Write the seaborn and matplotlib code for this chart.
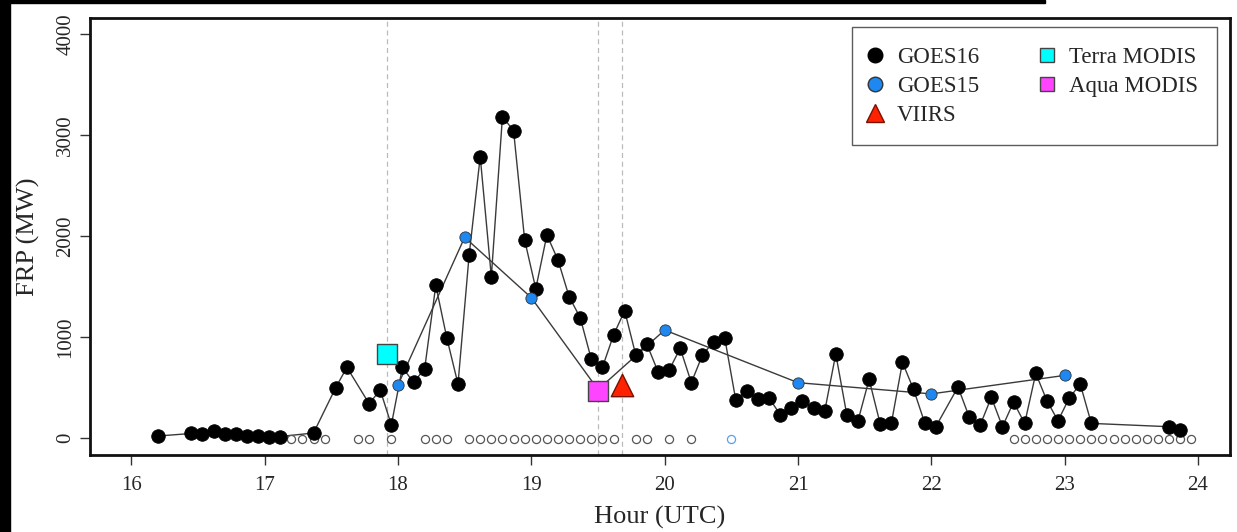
"""
FRP time series from GOES16 / GOES15 with polar orbiter overpasses
"""
import seaborn as sns
import matplotlib.pyplot as plt
import matplotlib.patches as mpatches
from matplotlib.lines import Line2D
import pandas as pd

# GOES16 observations (UTC HH:MM, FRP in MW)
goes16_time = ["16:12", "16:27", "16:32", "16:37", "16:42", "16:47", "16:52", "16:57", "17:02", "17:07",
               "17:22", "17:32", "17:37", "17:47", "17:52", "17:57", "18:02", "18:07", "18:12", "18:17",
               "18:22", "18:27", "18:32", "18:37", "18:42", "18:47", "18:52", "18:57", "19:02", "19:07",
               "19:12", "19:17", "19:22", "19:27", "19:32", "19:37", "19:42", "19:47", "19:52", "19:57",
               "20:02", "20:07", "20:12", "20:17", "20:22", "20:27", "20:32", "20:37", "20:42", "20:47",
               "20:52", "20:57", "21:02", "21:07", "21:12", "21:17", "21:22", "21:27", "21:32", "21:37",
               "21:42", "21:47", "21:52", "21:57", "22:02", "22:12", "22:17", "22:22", "22:27", "22:32",
               "22:37", "22:42", "22:47", "22:52", "22:57", "23:02", "23:07", "23:12", "23:47", "23:52"]
goes16_frp = [20, 45, 35, 72, 35, 35, 25, 25, 15, 15,
              50, 500, 700, 340, 475, 130, 700, 550, 686, 1512,
              987, 535, 1809, 2785, 1597, 3181, 3043, 1960, 1478, 2010,
              1762, 1399, 1191, 779, 700, 1020, 1260, 822, 928, 657,
              673, 888, 548, 822, 953, 993, 376, 468, 386, 396,
              231, 297, 363, 297, 264, 832, 225, 171, 581, 139,
              145, 749, 482, 152, 112, 505, 211, 129, 403, 112,
              356, 145, 640, 370, 171, 393, 535, 145, 112, 79]

# GOES15 observations
goes15_time = ["18:00", "18:30", "19:00", "19:30", "20:00", "21:00", "22:00", "23:00"]
goes15_frp = [525, 1987, 1389, 480, 1069, 548, 437, 620]

# scans with no fire detection (open circles)
goes16_none = ["17:07", "17:12", "17:17", "17:22", "17:27", "17:42", "17:47", "17:57",
               "18:12", "18:17", "18:22", "18:32", "18:37", "18:42", "18:47", "18:52", "18:57",
               "19:02", "19:07", "19:12", "19:17", "19:22", "19:27", "19:32", "19:37",
               "19:47", "19:52", "20:02", "20:12",
               "22:37", "22:42", "22:47", "22:52", "22:57", "23:02", "23:07", "23:12", "23:17",
               "23:22", "23:27", "23:32", "23:37", "23:42", "23:47", "23:52", "23:57"]
goes15_none = ["20:30"]

# polar orbiters
terra_time, terra_frp = ["17:55"], [830]
aqua_time, aqua_frp = ["19:30"], [468]
viirs_time, viirs_frp = ["19:41"], [525]


def hours(times):
    t = pd.to_datetime(pd.Series(times), format="%H:%M")
    return (t.dt.hour + t.dt.minute / 60).values


sns.set_style("ticks")
plt.rcParams["font.family"] = ["Liberation Serif", "DejaVu Serif"]

fig = plt.figure(figsize=(12.37, 5.32), dpi=100)
ax = fig.add_axes([90 / 1237, 1 - 455 / 532, 1140 / 1237, 437 / 532])

# overpass lines
for t in terra_time + aqua_time + viirs_time:
    ax.axvline(hours([t])[0], color="#bbbbbb", ls=(0, (4, 3)), lw=0.9, zorder=0)

line_kw = dict(color="#3a3a3a", lw=1.0, sort=False, estimator=None, legend=False)
sns.lineplot(x=hours(goes16_time), y=goes16_frp, ax=ax, zorder=2, **line_kw)
sns.lineplot(x=hours(goes15_time), y=goes15_frp, ax=ax, zorder=2, **line_kw)

sns.scatterplot(x=hours(goes16_none), y=[-5] * len(goes16_none), ax=ax, s=34,
                facecolor="white", edgecolor="#555555", linewidth=0.9, zorder=3)
sns.scatterplot(x=hours(goes15_none), y=[-5] * len(goes15_none), ax=ax, s=34,
                facecolor="white", edgecolor="#5aa0f0", linewidth=0.9, zorder=3)

sns.scatterplot(x=hours(goes16_time), y=goes16_frp, ax=ax, s=95, color="black",
                edgecolor="black", linewidth=0.6, zorder=4)
sns.scatterplot(x=hours(goes15_time), y=goes15_frp, ax=ax, s=66, color="#1e88f0",
                edgecolor="#333333", linewidth=0.6, zorder=5)

sns.scatterplot(x=hours(terra_time), y=terra_frp, ax=ax, s=220, marker="s", color="#00ffff",
                edgecolor="#444444", linewidth=1.0, zorder=6)
sns.scatterplot(x=hours(aqua_time), y=aqua_frp, ax=ax, s=220, marker="s", color="#ff44ff",
                edgecolor="#444444", linewidth=1.0, zorder=6)
sns.scatterplot(x=hours(viirs_time), y=viirs_frp, ax=ax, s=260, marker="^", color="#ff2200",
                edgecolor="#7a1000", linewidth=1.0, zorder=6)

ax.set_xlim(15.69, 24.24)
ax.set_ylim(-168, 4158)
ax.set_xticks(range(16, 25))
ax.set_yticks(range(0, 4001, 1000))
ax.tick_params(axis="both", direction="out", length=7, width=1, labelsize=15, color="#333333")
ax.tick_params(axis="x", pad=8)
for lab in ax.get_yticklabels():
    lab.set_rotation(90)
    lab.set_va("center")
for sp in ax.spines.values():
    sp.set_linewidth(2)
    sp.set_color("#111111")

ax.set_xlabel("Hour (UTC)", fontsize=19, labelpad=8)
ax.set_ylabel("FRP (MW)", fontsize=19, labelpad=12)

handles = [
    Line2D([], [], ls="", marker="o", ms=10.5, mfc="black", mec="black", label="GOES16"),
    Line2D([], [], ls="", marker="o", ms=10.5, mfc="#1e88f0", mec="#333333", label="GOES15"),
    Line2D([], [], ls="", marker="^", ms=12.5, mfc="#ff2200", mec="#7a1000", label="VIIRS"),
    Line2D([], [], ls="", marker="s", ms=10, mfc="#00ffff", mec="#444444", label="Terra MODIS"),
    Line2D([], [], ls="", marker="s", ms=10, mfc="#ff44ff", mec="#444444", label="Aqua MODIS"),
]
leg = ax.legend(handles=handles, ncol=2, loc="upper right", bbox_to_anchor=(0.9886, 0.979),
                borderaxespad=0, fontsize=16.5, frameon=True, fancybox=False, edgecolor="#333333",
                borderpad=0.85, handlelength=0.3, handletextpad=0.8, columnspacing=2.8,
                labelspacing=0.35)
leg.get_frame().set_linewidth(1.0)

# dark screenshot edges
fig.patches.append(mpatches.Rectangle((0, 0), 10 / 1237, 1, transform=fig.transFigure,
                                      color="black", zorder=10))
fig.patches.append(mpatches.Rectangle((0, 1 - 3 / 532), 1045 / 1237, 3 / 532,
                                      transform=fig.transFigure, color="black", zorder=10))

fig.savefig("out.png", dpi=100)
